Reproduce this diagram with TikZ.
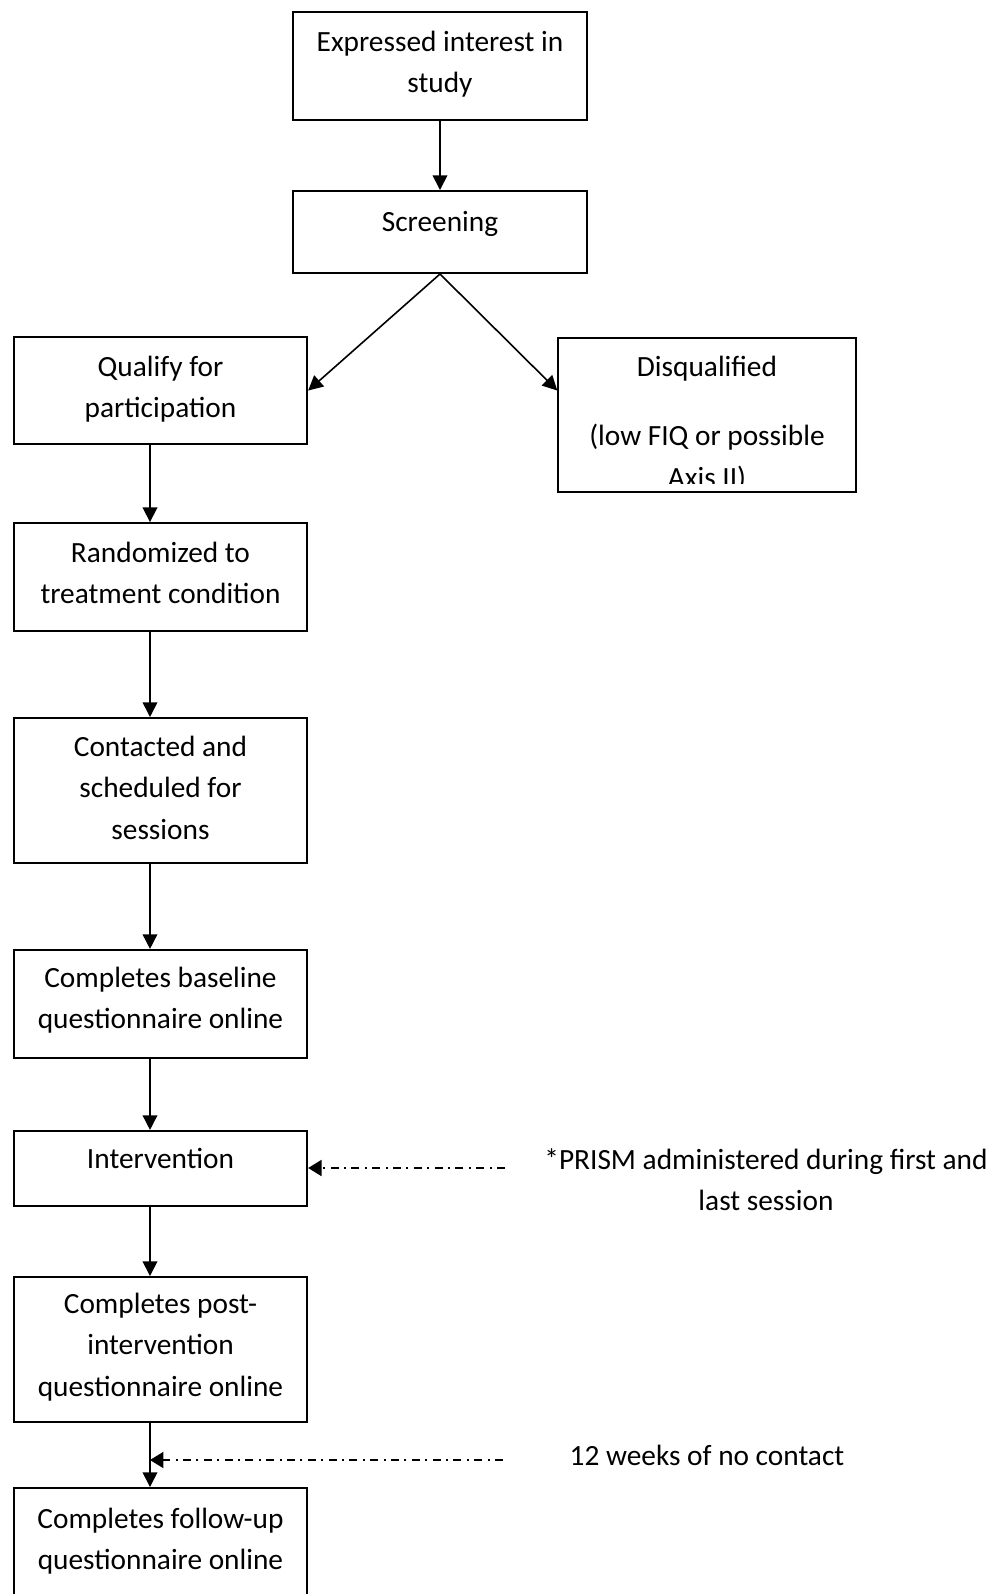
\documentclass[tikz,border=0pt]{standalone}
\usepackage{fontspec}
\setmainfont{Carlito}
\usetikzlibrary{arrows.meta}

\begin{document}
\begin{tikzpicture}[
  x=0.375pt, y=-0.375pt,
  flowbox/.style={draw, line width=0.75pt, inner xsep=0pt, inner ysep=0pt, anchor=base,
    text width=110pt, align=flush center, font=\fontsize{11}{15.6}\selectfont},
  note/.style={inner sep=0pt, anchor=base, align=flush center, font=\fontsize{11}{15.6}\selectfont},
  arr/.style={line width=0.6pt, -{Triangle[width=5.5pt,length=5.5pt]}},
  dotdash/.style={line width=0.6pt, dash pattern=on 3pt off 2pt on 0.8pt off 2pt,
    -{Triangle[width=6pt,length=5pt]}}
]
  \useasboundingbox (0,0) rectangle (1000,1594);

  % top of the chart
  \node[flowbox, text height=14.6pt, text depth=25.9pt] (interest) at (440,51) {Expressed interest in\\study};
  \node[flowbox, text height=15pt, text depth=15.75pt] (screen) at (440,231) {Screening};

  % the two outcomes of screening
  \node[flowbox, text height=14.6pt, text depth=25.5pt] (qualify) at (160.5,376) {Qualify for\\participation};
  \node[flowbox, text width=111.5pt, text height=13.9pt, text depth=43.9pt] (disq) at (707,375) {};
  \begin{scope}
    \clip (disq.north west) rectangle (disq.east |- 0,483);
    \node[note, text width=111.5pt] (disqtext) at (707,376) {Disqualified\\[10.3pt](low FIQ or possible\\[0.3pt]Axis II)};
  \end{scope}

  % main column
  \node[flowbox, text height=14.6pt, text depth=25.9pt] (random) at (160.5,562) {Randomized to\\treatment condition};
  \node[flowbox, text height=14.25pt, text depth=40.1pt] (contact) at (160.5,756) {Contacted and\\scheduled for\\sessions};
  \node[flowbox, text height=13.9pt, text depth=26.6pt] (baseline) at (160.5,987) {Completes baseline\\questionnaire online};
  \node[flowbox, text height=13.9pt, text depth=14.25pt] (interv) at (160.5,1168) {Intervention};
  \node[flowbox, text height=13.5pt, text depth=40.9pt] (post) at (160.5,1313) {Completes post-\\intervention\\questionnaire online};
  \node[flowbox, text height=15pt, text depth=30.75pt] (follow) at (160.5,1528) {Completes follow-up\\questionnaire online};

  % side notes
  \node[note, text width=170pt] (prism) at (766,1169) {*PRISM administered during first and\\last session};
  \node[note] (nocontact) at (707,1465) {12 weeks of no contact};

  \coordinate (spine) at (150,0);
  \coordinate (prismtail) at (505,1168);
  \coordinate (waittail) at (503,1460);

  \draw[arr] (interest.south) -- (screen.north);
  \draw[arr] (screen.south) -- (qualify.east);
  \draw[arr] (screen.south) -- (disq.west |- qualify.east);
  \draw[arr] (qualify.south -| spine) -- (random.north -| spine);
  \draw[arr] (random.south -| spine) -- (contact.north -| spine);
  \draw[arr] (contact.south -| spine) -- (baseline.north -| spine);
  \draw[arr] (baseline.south -| spine) -- (interv.north -| spine);
  \draw[arr] (interv.south -| spine) -- (post.north -| spine);
  \draw[arr] (post.south -| spine) -- (follow.north -| spine);

  \draw[dotdash] (prismtail) -- (interv.east |- prismtail);
  \draw[dotdash] (waittail) -- (spine |- waittail);
\end{tikzpicture}
\end{document}
